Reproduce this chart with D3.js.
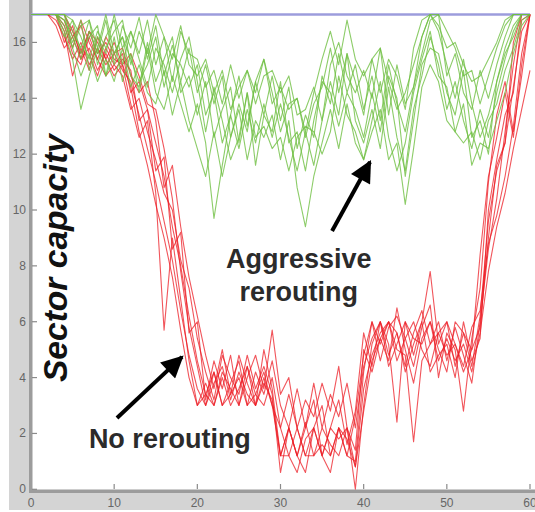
<!DOCTYPE html>
<html>
<head>
<meta charset="utf-8">
<script src="https://cdn.jsdelivr.net/npm/d3@7"></script>
<style>
  body { margin: 0; background: #fff; }
  svg { display: block; font-family: "Liberation Sans", Arial, sans-serif; }
</style>
</head>
<body>
<script>
// sector capacity, one value per time step t = 0..60
var capacity = 17;
var xTicks = [0, 10, 20, 30, 40, 50, 60];
var yTicks = [0, 2, 4, 6, 8, 10, 12, 14, 16];

var greenRuns = [
  [17,17,17,17,16.8,16.2,15.4,16.4,15.6,16.8,
   15.2,16.6,15.8,16.9,15.4,16.6,14.8,15.9,14.6,15.8,
   14.2,15.2,13.8,14.8,12.6,13.8,12.8,14.6,13.4,14.8,
   13.2,14.4,12.2,13.4,12.6,14.8,13.8,15.6,14.2,15.2,
   13.6,14.8,13.2,15.2,13.8,12.8,14.4,16.2,17,16.4,
   15.2,14,15.4,13.8,12.6,13.4,14.6,15.8,16.6,17,
   17],
  [17,17,17,17,16.4,15.4,13.6,14.8,15.8,14.8,
   16.2,14.6,15.6,14.2,15.8,14.2,13.6,14.8,13.8,12.8,
   13.8,12.4,9.7,11.6,13.4,12.2,13.6,12.4,13.8,12.6,
   13.8,12.6,11.4,12.8,11.6,13.2,14.6,13.4,15.6,13.2,
   12.4,13.6,12.2,14.4,12.6,11.4,13.6,14.8,16.2,15.2,
   13.6,14.6,13.2,12.2,13.6,12.6,14.2,15.4,16.4,17,
   17],
  [17,17,17,17,17,16.4,15.8,16.8,15.2,16.2,
   16.8,15.2,16.4,15.6,16.8,15.2,16.2,14.6,16.4,15.6,
   15.4,14.4,15,13.8,15.2,14,15,14.2,15.4,13.8,
   14.4,13.6,14,12.8,14.2,15.4,16.4,15.2,16.8,15.4,
   14.8,15.4,14.2,15.4,14.8,13.6,15.8,16.8,17,17,
   16.4,15.8,14.8,15,13.8,14.8,15.8,16.6,17,17,
   17],
  [17,17,17,17,16.6,15.8,14.8,15.6,14.6,15.4,
   14.6,15.8,14.4,15.2,14.2,13.8,15,13.4,14.6,13.2,
   12.2,11.2,12.8,11.2,12.6,13.6,11.8,13.2,12.6,13.4,
   11.8,13.2,10.8,9.4,11.2,12.4,13.6,12.2,13.8,12.4,
   11.8,12.8,13.6,11.8,12.4,10.2,12.2,14.4,15.2,14.6,
   13.2,12.8,13.8,11.6,12.4,12.2,13.2,14.2,15.6,16.6,
   17],
  [17,17,17,17,17,16.8,16.2,15.4,16.4,15.8,
   16.4,16.8,15.2,16.4,15.6,17,16.2,15.4,16.6,15.2,
   14.8,15.4,14.2,15,13.6,14.4,15,13.8,14.8,15,
   14.2,14.8,13.4,13.6,14.4,13.2,15.2,16,14.8,14.2,
   15,14,15.8,14.6,13.6,14.2,15.2,16.2,17,16.6,
   15.8,16,15.2,14.6,14.8,15.4,16,16.8,17,17,
   17],
  [17,17,17,17,16.2,16.8,15.6,16.2,16.6,14.8,
   15.6,16.2,14.8,14.4,16,14.6,15.4,16.2,14.2,14.8,
   13.4,14.6,12.6,13.6,14.4,12.4,14.2,12.6,13,12.2,
   12.6,11.4,12.6,13,12.8,12,12.8,14.8,13.4,12.8,
   11.8,13.2,14.6,12.6,11.4,12.4,14.2,15.4,16.4,14.8,
   14.4,12.8,12.4,12.8,11.8,13.2,13.8,15,15.8,16.8,
   17],
  [17,17,17,17,17,15.8,16.6,16.8,15.8,17,
   15.6,16.2,15.4,14.6,15.2,16.2,14.4,15.6,15.2,14.4,
   15.2,13.4,14.2,12.4,13.4,14.8,13,14.6,15.4,14.2,
   12.8,13.8,14,12.6,13.8,14.4,15.8,14.2,15.6,14.6,
   13.4,15.4,15.8,13.4,15.2,13.8,14.4,15.6,16.8,17,
   14.8,15.6,14.2,13.6,15,14,15.2,16.2,17,17,
   17],
  [17,17,17,17,16.8,16,16.8,15,16.2,15.6,
   17,15.8,16.4,15.4,14.4,15.8,15.2,14.2,15.4,16.2,
   14.6,12.8,14.4,13.2,11.8,12.6,14.2,11.6,13.4,12.8,
   14.6,12.4,12.8,11.4,13.2,14.6,14.2,13,14.2,13.6,
   12.6,14.2,12.8,14.8,14,11.2,13.2,15.2,15.8,15.6,
   14.2,13.4,15,12.6,13.2,12,14.6,15.6,16.2,17,
   17]
];

var redRuns = [
  [17,17,17,16.8,16.2,15.4,16,15.2,15.8,15.2,
   15.6,15,14.6,13.4,12.2,11,9.6,8.2,6.4,4.8,
   3.6,3,4.2,3,3.8,4.6,3,3.4,4.2,3,
   2.2,3.4,2.2,1.2,2.2,3,1.2,2.2,1.2,2.6,
   4.8,6,5.2,6,4.6,5.4,6,5,4.4,5.6,
   4.8,5.2,4.2,5,8.4,11.2,12.6,14.2,12.6,15.2,
   17],
  [17,17,17,17,16.6,15.6,15.2,16.2,15.4,14.8,
   15.2,15.6,14.2,14.6,13.6,12.4,11.2,9.4,8,6.2,
   4.6,3.4,3,4,3,3.6,4.4,3,5,3.6,
   1.2,2.2,1.2,2.2,3.2,1.2,2.2,1.8,2.2,0,
   3,5.2,6,4.8,5.6,4.2,5.2,6,7.8,5.2,
   6,4.4,5.6,4.4,6.2,9.6,11.4,12.4,14.4,16.4,
   17],
  [17,17,17,17,16,16.6,15.4,15.8,15,15.6,
   15,15.4,15,13.2,13.6,11.4,11.9,8.6,9.2,5.6,
   6,3.2,4.6,3.6,4.8,3,4,4.8,3.6,5.7,
   3.4,4,2.2,3.2,2.6,3.8,2.8,4.4,2.2,1.4,
   5,4.2,5.4,4.6,6.5,5,3.8,5.4,6,4.6,
   5.4,4.6,5.2,4.2,5.6,7.8,9.4,10.6,12.2,13.6,
   15],
  [17,17,17,17,17,16.4,15.6,16.4,16,15.4,
   16,15.2,15.6,14.8,13.8,13.6,12.2,10.4,7.8,5.8,
   4.4,3,3.8,4.4,3.2,4.2,3.4,3,3.8,3.2,
   1.2,1.2,2.2,1.2,1.2,2.2,1.6,1.2,2.2,0.8,
   2.8,4.6,5.4,6,5,4.8,1.7,4.6,5.2,6,
   4.6,5.8,4.8,3.8,6,8.6,10.4,12.8,15.2,17,
   17],
  [17,17,17,17,16.4,14.8,15.8,15,16.2,15.4,
   14.8,15.2,14.4,12.8,11.6,10.2,9,7.6,5.7,4,
   3,3.8,3,4.2,3.6,3,4.4,3.4,3,4,
   2.2,1.2,0.6,1.8,2.2,1.2,2.2,3.2,1.6,2.8,
   5.6,4.4,6,5.2,2.4,6,4.8,6,4.2,4.8,
   5.2,4,6,4.6,5.4,10,11.8,13.4,14.2,16.8,
   17],
  [17,17,17,16.6,15.8,16.2,16.6,15.6,14.8,15.8,
   15.2,14.8,13.6,14,12.8,11.8,10.6,10,8.2,7.2,
   5.4,4.2,3.2,4.8,4,3.4,4.8,3.6,4.4,3.4,
   0.6,2.2,1.2,0.6,2.2,1.2,0.6,2.2,1.2,1,
   4.2,6,4.6,5.8,6.2,5.4,4.4,5.8,6.6,4,
   5.6,5,2.8,5.4,7.2,11,13.4,14.6,12.8,14.8,
   17],
  [17,17,17,17,16.8,15.8,16.8,16,15.4,16.2,
   15.6,15.8,14.8,14.2,14.6,13.2,10.8,11.6,9.4,7.6,
   6.2,4.8,3.6,5,3.4,4,3,4.2,3.4,4.6,
   3,2.2,3.6,2.2,3.8,2.2,3.4,2.6,3.8,2.2,
   4.4,5.4,6,4.4,5.2,6,5.4,5.2,6,5,
   4.2,6,5.6,5,5.8,9,11.6,12.4,16,17,
   17],
  [17,17,17,17,17,16.2,15.4,16.4,15.6,16,
   15.4,15.2,13.8,12.6,13.2,10.6,5.7,9,6.8,4.6,
   3,3.4,4.2,3,3.4,4.8,3.8,3,4,3,
   1.2,2.2,1.2,2.4,1.2,1.6,1.2,2.2,1.8,0.8,
   3.6,4.8,5.6,6,5.6,4.4,5.6,6.4,5.2,5.6,
   6,5.2,4.4,5.8,6.4,8.8,9.8,11.2,13,15.6,
   17]
];

// annotations in data units
var notes = [
  { lines: ["Aggressive", "rerouting"], x: 32.2, y: 7.93 },
  { lines: ["No rerouting"], x: 16.7, y: 1.48 }
];
var arrows = [
  { from: [36.2, 9.25], to: [40.76, 11.72] },
  { from: [10.34, 2.55], to: [18.16, 4.74] }
];

var W = 535, H = 512;
var x = d3.scaleLinear().domain([0, 60]).range([31, 530]);
var y = d3.scaleLinear().domain([0, 17]).range([489.3, 14.5]);

var svg = d3.select("body").append("svg")
    .attr("width", W).attr("height", H);

// grey frame round the axes
svg.append("rect").attr("x", 9).attr("y", 0).attr("width", 22).attr("height", 510).attr("fill", "#d4d4d4");
svg.append("rect").attr("x", 9).attr("y", 491).attr("width", W - 9).attr("height", 19).attr("fill", "#d4d4d4");
svg.append("rect").attr("x", 29).attr("y", 0).attr("width", 3.5).attr("height", 493).attr("fill", "#9c9c9c");
svg.append("rect").attr("x", 29).attr("y", 489.5).attr("width", W - 29).attr("height", 3.5).attr("fill", "#9c9c9c");

var g = svg.append("g");

// ticks
g.selectAll(".yt").data(yTicks).enter().append("line")
    .attr("x1", 32).attr("x2", 37)
    .attr("y1", function(d){ return y(d); }).attr("y2", function(d){ return y(d); })
    .attr("stroke", "#8a8a8a").attr("stroke-width", 1.2);
g.selectAll(".ytl").data(yTicks).enter().append("text")
    .attr("x", 26).attr("y", function(d){ return y(d) + 4; })
    .attr("text-anchor", "end").attr("font-size", 12).attr("fill", "#666")
    .text(function(d){ return d; });
g.selectAll(".xt").data(xTicks.slice(1)).enter().append("line")
    .attr("x1", function(d){ return x(d); }).attr("x2", function(d){ return x(d); })
    .attr("y1", 489).attr("y2", 484)
    .attr("stroke", "#8a8a8a").attr("stroke-width", 1.2);
g.selectAll(".xtl").data(xTicks).enter().append("text")
    .attr("x", function(d){ return x(d); }).attr("y", 507)
    .attr("text-anchor", "middle").attr("font-size", 12).attr("fill", "#666")
    .text(function(d){ return d; });

// axis title
svg.append("text")
    .attr("transform", "translate(67,258) rotate(-90)")
    .attr("text-anchor", "middle")
    .attr("font-size", 34).attr("font-weight", "bold").attr("font-style", "italic")
    .attr("textLength", 248).attr("lengthAdjust", "spacingAndGlyphs")
    .attr("fill", "#111")
    .text("Sector capacity");

var line = d3.line()
    .x(function(d, i){ return x(i); })
    .y(function(d){ return y(d); });

// capacity limit
svg.append("line")
    .attr("x1", x(0)).attr("x2", x(60))
    .attr("y1", y(capacity)).attr("y2", y(capacity))
    .attr("stroke", "#9c9cdc").attr("stroke-width", 2.5);

svg.append("g").selectAll("path").data(redRuns).enter().append("path")
    .attr("d", line)
    .attr("fill", "none").attr("stroke", "#ec1c24")
    .attr("stroke-width", 1.1).attr("stroke-opacity", 0.75)
    .attr("stroke-linejoin", "round");

svg.append("g").selectAll("path").data(greenRuns).enter().append("path")
    .attr("d", line)
    .attr("fill", "none").attr("stroke", "#6fbf42")
    .attr("stroke-width", 1.1).attr("stroke-opacity", 0.8)
    .attr("stroke-linejoin", "round");

// arrows
svg.append("defs").append("marker")
    .attr("id", "head").attr("viewBox", "0 0 10 10")
    .attr("refX", 9).attr("refY", 5)
    .attr("markerWidth", 6).attr("markerHeight", 5.5)
    .attr("markerUnits", "strokeWidth")
    .attr("orient", "auto")
  .append("path").attr("d", "M0,0 L10,5 L0,10 z").attr("fill", "#000");

svg.selectAll(".arrow").data(arrows).enter().append("line")
    .attr("x1", function(d){ return x(d.from[0]); })
    .attr("y1", function(d){ return y(d.from[1]); })
    .attr("x2", function(d){ return x(d.to[0]); })
    .attr("y2", function(d){ return y(d.to[1]); })
    .attr("stroke", "#000").attr("stroke-width", 4)
    .attr("marker-end", "url(#head)");

notes.forEach(function(n){
    var t = svg.append("text")
        .attr("text-anchor", "middle")
        .attr("font-size", 27).attr("font-weight", "bold")
        .attr("fill", "#2b2b2b");
    n.lines.forEach(function(s, i){
        t.append("tspan")
            .attr("x", x(n.x))
            .attr("y", y(n.y) + i * 33)
            .text(s);
    });
});
</script>
</body>
</html>
